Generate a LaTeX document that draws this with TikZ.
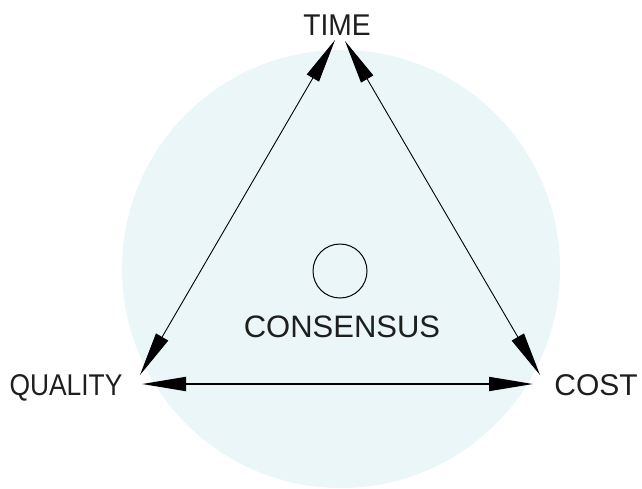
\documentclass[tikz,border=0pt]{standalone}
\usepackage{fontspec}
\setmainfont{Liberation Sans}
\usetikzlibrary{arrows.meta}
\definecolor{bgcyan}{RGB}{234,246,247}
\definecolor{txt}{RGB}{30,30,30}
\tikzset{
  lbl/.style={font=\fontsize{30}{30}\selectfont, text=txt, inner sep=0pt, anchor=base},
  conn/.style={black, line width=0.9pt, {Triangle[length=44pt,width=14pt]}-{Triangle[length=44pt,width=14pt]}},
  connb/.style={black, line width=1.8pt, {Triangle[length=44pt,width=14pt]}-{Triangle[length=44pt,width=14pt]}}
}
\begin{document}
\begin{tikzpicture}[x=1pt,y=-1pt]
\useasboundingbox (0,0) rectangle (642,488);
\fill[bgcyan] (341,269) circle (219);
\node[draw=black, line width=1pt, circle, minimum size=54pt, inner sep=0pt] (hub) at (340,271) {};
\node[lbl, xscale=0.94] (time) at (337,35) {TIME};
\node[lbl, xscale=0.88] (quality) at (66,395) {QUALITY};
\node[lbl] (cost) at (596,395) {COST};
\node[lbl, font=\fontsize{31}{31}\selectfont] (consensus) at (342,337) {CONSENSUS};
\coordinate (tl) at (335,40);
\coordinate (tr) at (345,41);
\coordinate (ql) at (140,375);
\coordinate (qh) at (142,384);
\coordinate (cr) at (540,375);
\coordinate (ch) at (533,384);
\draw[conn] (tl) -- (ql);
\draw[conn] (tr) -- (cr);
\draw[connb] (qh) -- (ch);
\end{tikzpicture}
\end{document}
